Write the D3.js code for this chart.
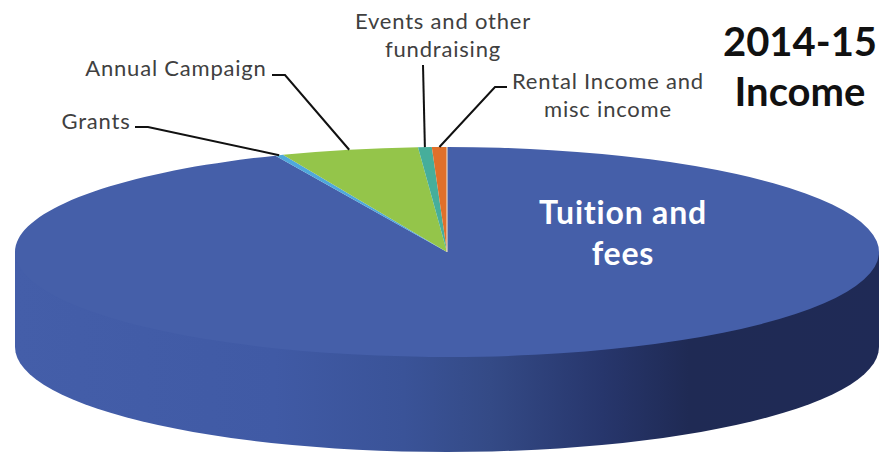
<!DOCTYPE html>
<html><head><meta charset="utf-8">
<script src="https://d3js.org/d3.v7.min.js"></script>
<style>html,body{margin:0;padding:0;background:#fff}svg{display:block}text{font-family:Lato,"Open Sans",sans-serif}</style>
</head><body><svg id="c" width="885" height="453"></svg>
<script>
const categories = ["Tuition and fees","Grants","Annual Campaign","Events and other fundraising","Rental Income and misc income"];
const values = [93.5,0.3,5.13,0.51,0.56];
const colors = ["#455fa9","#4fa8dc","#94c54a","#46ae9b","#e0702a"];
const wallStops = [[0,"#445ea9"],[0.3,"#405aa5"],[0.45,"#3a5398"],[0.55,"#344a86"],[0.68,"#27366c"],[0.78,"#1f2a54"],[1,"#1f2a56"]];

const svg = d3.select("#c");
const cx = 447, cy = 252, rx = 432, ry = 105, depth = 95;

const grad = svg.append("defs").append("linearGradient").attr("id","wall");
grad.selectAll("stop").data(wallStops).join("stop").attr("offset",d=>d[0]).attr("stop-color",d=>d[1]);

// side wall of the disc
const wallAngles = d3.range(90,271,3).map(d=>d*Math.PI/180);
const wall = d3.path();
wallAngles.forEach((t,i)=>{const x=cx+rx*Math.sin(t),y=cy-ry*Math.cos(t)+depth; i?wall.lineTo(x,y):wall.moveTo(x,y);});
wall.lineTo(cx-rx,cy); wall.lineTo(cx+rx,cy); wall.closePath();
svg.append("path").attr("d",wall.toString()).attr("fill","url(#wall)");

// top face
const pie = d3.pie().sort(null)(values);
const arc = d3.arc().innerRadius(0).outerRadius(rx);
const face = svg.append("g").attr("transform",`translate(${cx},${cy}) scale(1,${ry/rx})`);
face.selectAll("path").data(pie).join("path").attr("d",arc).attr("fill",(d,i)=>colors[i]);
face.append("path").attr("d",d3.line()([[0,0],[0,-rx]])).attr("stroke","#e8d9c8").attr("stroke-width",1.2);

// leaders
const anchor = i=>{const m=(pie[i].startAngle+pie[i].endAngle)/2;return [cx+rx*Math.sin(m),cy-ry*Math.cos(m)];};
const elbows = {1:[[135,127],[148,127]],2:[[272,75],[285,75]],3:[[423,65]],4:[[507,87],[495,87]]};
Object.keys(elbows).forEach(k=>{
  const a=anchor(+k);
  svg.append("path").attr("d",d3.line()([...elbows[k],a])).attr("fill","none").attr("stroke","#111").attr("stroke-width",2);
});

const label=(lines,x,y0,lh,size,weight,fill,ls)=>{
  const t=svg.append("text").attr("text-anchor","middle").attr("font-size",size).attr("font-weight",weight).attr("fill",fill).attr("letter-spacing",ls||0);
  lines.forEach((l,i)=>t.append("tspan").attr("x",x).attr("y",y0+i*lh).text(l));
};
label(["Grants"],96,129,0,22,400,"#404040",0.8);
label(["Annual Campaign"],176,76,0,22,400,"#404040",0.8);
label(["Events and other","fundraising"],443,29,28,22,400,"#404040",0.8);
label(["Rental Income and","misc income"],608,89,28,22,400,"#404040",0.8);
label(["Tuition and","fees"],623,224,41,32,700,"#fff",0.8);
label(["2014-15","Income"],800,56,50,40,700,"#111",0);
</script></body></html>
